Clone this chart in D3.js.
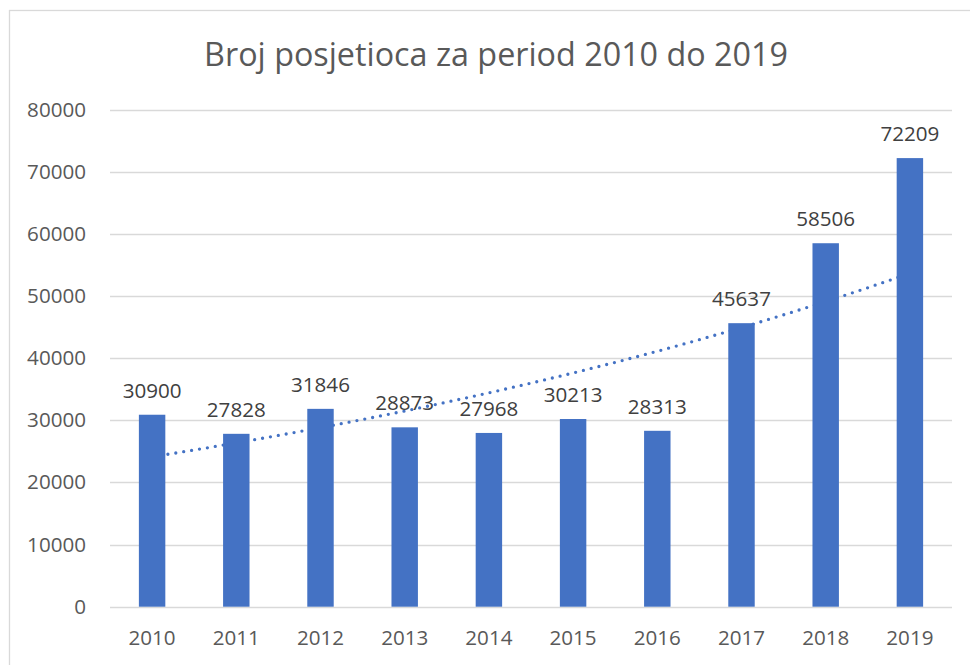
<!DOCTYPE html>
<html>
<head>
<style>
  body { margin: 0; background: #fff; }
  text { font-family: "Open Sans", sans-serif; }
</style>
</head>
<body>
<svg id="chart" width="970" height="665"></svg>
<script src="https://cdn.jsdelivr.net/npm/d3@7/dist/d3.min.js"></script>
<script>
  const years = ["2010", "2011", "2012", "2013", "2014", "2015", "2016", "2017", "2018", "2019"];
  const visitors = [30900, 27828, 31846, 28873, 27968, 30213, 28313, 45637, 58506, 72209];
  const yTicks = [0, 10000, 20000, 30000, 40000, 50000, 60000, 70000, 80000];
  const title = "Broj posjetioca za period 2010 do 2019";

  const svg = d3.select("#chart");
  const plotLeft = 110, plotRight = 952, plotTop = 109.7, plotBottom = 606.7;

  // chart frame
  svg.append("rect")
    .attr("x", 9.5).attr("y", 10.5)
    .attr("width", 970).attr("height", 670)
    .attr("fill", "none").attr("stroke", "#d9d9d9").attr("stroke-width", 1.3);

  svg.append("text")
    .attr("x", 496).attr("y", 66)
    .attr("text-anchor", "middle")
    .attr("font-size", 32.3)
    .attr("fill", "#595959")
    .text(title);

  const x = d3.scaleBand().domain(years).range([plotLeft, plotRight]).paddingInner(0.686).paddingOuter(0.343);
  const y = d3.scaleLinear().domain([0, 80000]).range([plotBottom, plotTop]);

  // gridlines
  svg.append("g").selectAll("line").data(yTicks).enter().append("line")
    .attr("x1", plotLeft).attr("x2", plotRight)
    .attr("y1", (d) => Math.round(y(d)) + 0.5).attr("y2", (d) => Math.round(y(d)) + 0.5)
    .attr("stroke", "#d9d9d9").attr("stroke-width", 1.3);

  svg.append("g").selectAll("text").data(yTicks).enter().append("text")
    .attr("x", 86).attr("y", (d) => y(d) + 7)
    .attr("text-anchor", "end")
    .attr("font-size", 20.6).attr("fill", "#595959")
    .text((d) => d);

  svg.append("g").selectAll("text").data(years).enter().append("text")
    .attr("x", (d) => x(d) + x.bandwidth() / 2).attr("y", 645)
    .attr("text-anchor", "middle")
    .attr("font-size", 20.6).attr("fill", "#595959")
    .text((d) => d);

  // exponential trendline, least squares on ln(y)
  const n = visitors.length;
  const xs = d3.range(1, n + 1);
  const lny = visitors.map((v) => Math.log(v));
  const mx = d3.mean(xs), my = d3.mean(lny);
  const b = d3.sum(xs, (v, i) => (v - mx) * (lny[i] - my)) / d3.sum(xs, (v) => (v - mx) * (v - mx));
  const a = my - b * mx;
  const trend = d3.range(0, n - 1 + 0.001, 0.1).map((t) => ({ t: t, v: Math.exp(a + b * (t + 1)) }));
  const step = x.step();
  const x0 = x(years[0]) + x.bandwidth() / 2;

  svg.append("path")
    .datum(trend)
    .attr("d", d3.line().x((d) => x0 + d.t * step).y((d) => y(d.v)))
    .attr("fill", "none").attr("stroke", "#4472c4")
    .attr("stroke-width", 3.3).attr("stroke-linecap", "round")
    .attr("stroke-dasharray", "0 8");

  svg.append("g").selectAll("rect").data(visitors).enter().append("rect")
    .attr("x", (d, i) => x(years[i]))
    .attr("y", (d) => y(d))
    .attr("width", x.bandwidth())
    .attr("height", (d) => y(0) - y(d))
    .attr("fill", "#4472c4");

  svg.append("g").selectAll("text").data(visitors).enter().append("text")
    .attr("x", (d, i) => x(years[i]) + x.bandwidth() / 2)
    .attr("y", (d) => y(d) - 17)
    .attr("text-anchor", "middle")
    .attr("font-size", 20.6).attr("fill", "#404040")
    .text((d) => d);
</script>
</body>
</html>
